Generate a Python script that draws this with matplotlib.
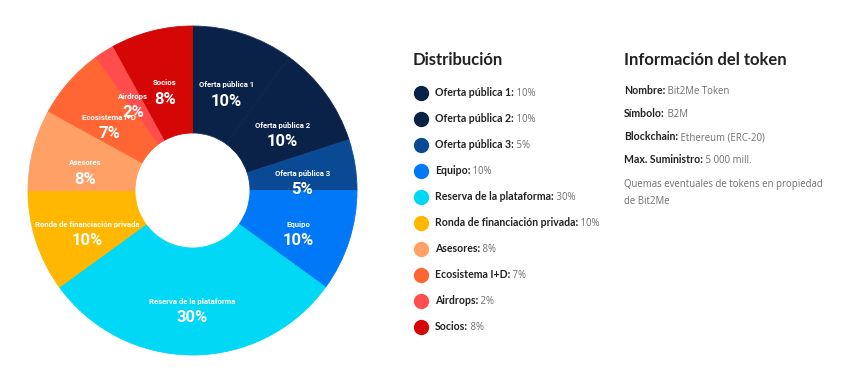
import numpy as np
import matplotlib.pyplot as plt

# token distribution
names = ["Oferta pública 1", "Oferta pública 2", "Oferta pública 3", "Equipo",
         "Reserva de la plataforma", "Ronda de financiación privada", "Asesores",
         "Ecosistema I+D", "Airdrops", "Socios"]
values = [10, 10, 5, 10, 30, 10, 8, 7, 2, 8]
colors = ["#0b2248", "#0b2248", "#0a4a94", "#0078f7", "#00d8f5",
          "#ffb700", "#ffa066", "#ff6633", "#ff4d4d", "#d40606"]

info_keys = ["Nombre:", "Símbolo:", "Blockchain:", "Max. Suministro:"]
info_vals = ["Bit2Me Token", "B2M", "Ethereum (ERC-20)", "5 000 mill."]
info_note = ["Quemas eventuales de tokens en propiedad", "de Bit2Me"]

W, H = 850, 377
fig = plt.figure(figsize=(W / 100, H / 100), dpi=100)

# donut
cx, cy, R, r_in = 192.5, 190.5, 164.5, 57.5
ax = fig.add_axes([(cx - R) / W, (H - cy - R) / H, 2 * R / W, 2 * R / H])
wedges, _ = ax.pie(values, colors=colors, startangle=90, counterclock=False,
                   radius=1, wedgeprops=dict(width=1 - r_in / R, linewidth=0.6))
for w, c in zip(wedges, colors):
    w.set_edgecolor(c)
wedges[0].set_edgecolor("#1d3862")
ax.set_xlim(-1, 1)
ax.set_ylim(-1, 1)
ax.set_aspect("equal")
ax.axis("off")

lab_font = ["Roboto", "DejaVu Sans"]
rmid = (1 + r_in / R) / 2
for w, n, v in zip(wedges, names, values):
    a = np.deg2rad((w.theta1 + w.theta2) / 2)
    x, y = rmid * np.cos(a), rmid * np.sin(a)
    ax.text(x, y, n, ha="center", va="center", color="white",
            fontsize=5.6, fontweight="bold", family=lab_font)
    ax.text(x, y - 0.098, f"{v}%", ha="center", va="center", color="white",
            fontsize=12, fontweight="bold", family=lab_font)

# text panels in pixel coordinates
bg = fig.add_axes([0, 0, 1, 1])
bg.set_xlim(0, W)
bg.set_ylim(H, 0)
bg.axis("off")
bg.patch.set_alpha(0)

bold_font = ["Lato", "DejaVu Sans"]
reg_font = ["Open Sans", "DejaVu Sans"]
dark, grey = "#222222", "#707070"


def key_value(x, y, key, val):
    # bold key, grey value on the same baseline
    t = bg.text(x, y, key, fontsize=7.6, fontweight="bold", color=dark,
                family=bold_font, va="baseline")
    bg.annotate(" " + val, xy=(1, y), xycoords=(t, "data"), va="baseline",
                ha="left", fontsize=6.9, color=grey, family=reg_font)


bg.text(413, 65, "Distribución", fontsize=12, fontweight="bold",
        color=dark, family=bold_font, va="baseline")
for i, (n, v, c) in enumerate(zip(names, values, colors)):
    y = 93 + 26 * i
    bg.scatter(421, y, s=100, color=c, zorder=3)
    key_value(435, y + 3.5, n + ":", f"{v}%")

bg.text(624, 65, "Información del token", fontsize=12, fontweight="bold",
        color=dark, family=bold_font, va="baseline")
for i, (k, v) in enumerate(zip(info_keys, info_vals)):
    key_value(624, 93.5 + 23.3 * i, k, v)
for i, line in enumerate(info_note):
    bg.text(624, 184 + 17 * i, line, fontsize=6.9, color=grey,
            family=reg_font, va="center")

fig.savefig("out.png", dpi=100, facecolor="white")
